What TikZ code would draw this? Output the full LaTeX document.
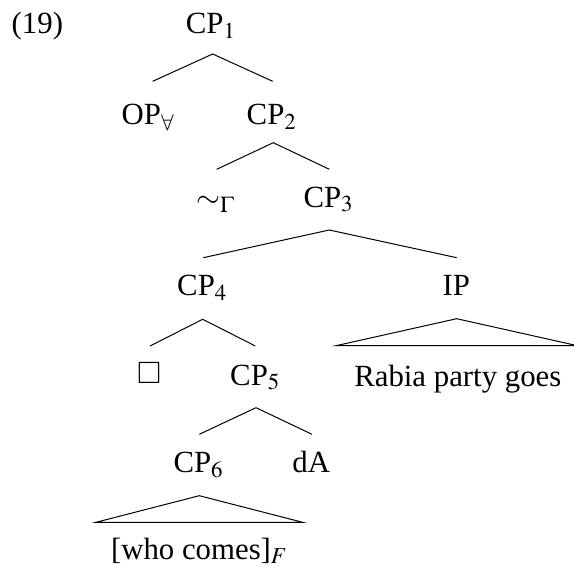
\documentclass[tikz,border=0pt]{standalone}
\usepackage{amssymb}
\usepackage{mathptmx}
\usepackage[no-math]{fontspec}
\setmainfont{Liberation Serif}
\begin{document}
\begin{tikzpicture}[x=1pt,y=-1pt,
  every node/.style={font=\fontsize{30.8}{37}\selectfont, inner sep=0pt, anchor=base},
  branch/.style={line width=1pt, line join=miter}]
\useasboundingbox (0,0) rectangle (574,567);

% example number
\node[anchor=base west] (ex) at (11.5,34) {(19)};

% tree labels (placed on their baselines)
\node (cp1) at (210.7,34) {CP$_1$};
\node (op)  at (148,125) {OP$_\forall$};
\node (cp2) at (271.5,125) {CP$_2$};
\node (sim) at (215.3,207.5) {$\sim_\Gamma$};
\node (cp3) at (328.3,207.3) {CP$_3$};
\node (cp4) at (202,296) {CP$_4$};
\node (ip)  at (456.3,296) {IP};
\node (box) at (149.2,384) {$\Box$};
\node (cp5) at (255,385) {CP$_5$};
\node (rpg) at (457.8,386) {Rabia party goes};
\node (cp6) at (198.3,472.5) {CP$_6$};
\node (da)  at (311.2,472.5) {dA};
\node (who) at (199.2,559) {[who comes]$_F$};

% branch points below each mother node, and tops of the daughters
\coordinate (cp1-f) at (212.7,54);
\coordinate (op-t)  at (152.7,81.3);
\coordinate (cp2-t) at (272.7,81.3);
\coordinate (cp2-f) at (273.3,142.7);
\coordinate (sim-t) at (216.7,169.3);
\coordinate (cp3-t) at (329.3,169.3);
\coordinate (cp3-f) at (329.3,230);
\coordinate (cp4-t) at (203.3,257.7);
\coordinate (ip-t)  at (456.7,257.7);
\coordinate (cp4-f) at (202.7,319.3);
\coordinate (box-t) at (150,346);
\coordinate (cp5-t) at (255.3,346);
\coordinate (ip-f)  at (456.7,318.7);
\coordinate (rpg-l) at (336,345.7);
\coordinate (rpg-r) at (577.4,345.7);
\coordinate (cp5-f) at (256,407.7);
\coordinate (cp6-t) at (199.3,434.3);
\coordinate (da-t)  at (312,434.3);
\coordinate (cp6-f) at (199.3,495.7);
\coordinate (who-l) at (96,522.3);
\coordinate (who-r) at (302.6,522.3);

% branches
\draw[branch] (op-t) -- (cp1-f) -- (cp2-t);
\draw[branch] (sim-t) -- (cp2-f) -- (cp3-t);
\draw[branch] (cp4-t) -- (cp3-f) -- (ip-t);
\draw[branch] (box-t) -- (cp4-f) -- (cp5-t);
\draw[branch] (cp6-t) -- (cp5-f) -- (da-t);

% roofs over unanalysed constituents
\draw[branch] (rpg-l) -- (ip-f) -- (rpg-r) -- cycle;
\draw[branch] (who-l) -- (cp6-f) -- (who-r) -- cycle;
\end{tikzpicture}
\end{document}
